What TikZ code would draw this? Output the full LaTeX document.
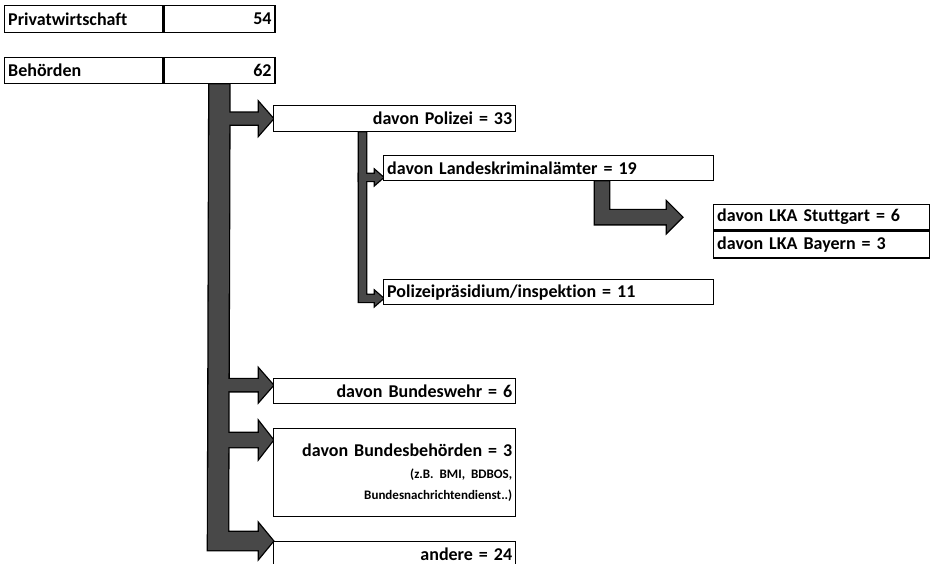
\documentclass[tikz,border=0pt]{standalone}
\usepackage{fontspec}
\setmainfont{Carlito}[Ligatures=NoCommon]
\usepackage{xcolor}
\usepackage{tikz}
\usetikzlibrary{calc, positioning, backgrounds}
\definecolor{arrowgray}{RGB}{72,72,72}
\frenchspacing

% block arrow to the right: start, tip, half shaft, half head, head length
\newcommand{\branch}[5]{($(#1 |- #2)+(0,-#3)$) -- ($(#2)+(-#5,-#3)$) -- ($(#2)+(-#5,-#4)$) -- (#2) -- ($(#2)+(-#5,#4)$) -- ($(#2)+(-#5,#3)$) -- ($(#1 |- #2)+(0,#3)$) -- cycle}

\newcommand{\arrowshapes}[1]{%
 % main trunk, turns into "andere"
 \path[#1] (trunk) -- ++(20,0) -- ($(anderetip)+(-45,-9)$) -- ($(anderetip)+(-14,-9)$) -- ($(anderetip)+(-14,-17)$) -- (anderetip) -- ($(anderetip)+(-14,17)$) -- ($(anderetip)+(-14,9)$) -- ($(anderetip)+(-65,9)$) -- cycle;
 \path[#1] \branch{trunkmid}{poltip}{6}{16}{14};
 \path[#1] \branch{trunkmid}{bwtip}{6}{16}{14};
 \path[#1] \branch{trunkmid}{bundtip}{7}{18}{14};
 % under Polizei
 \path[#1] (subtop) -- ++(7,0) -- ($(praestip)+(-17,-3.5)$) -- ($(praestip)+(-8,-3.5)$) -- ($(praestip)+(-8,-7)$) -- (praestip) -- ($(praestip)+(-8,7)$) -- ($(praestip)+(-8,3.5)$) -- ($(praestip)+(-24,3.5)$) -- cycle;
 \path[#1] \branch{subtop}{lkatip}{3.5}{7}{8};
 % LKA elbow
 \path[#1] (lkadrop) -- ++(14,0) -- ($(stgttip)+(-73,-7)$) -- ($(stgttip)+(-15,-7)$) -- ($(stgttip)+(-15,-15)$) -- (stgttip) -- ($(stgttip)+(-15,15)$) -- ($(stgttip)+(-15,7)$) -- ($(stgttip)+(-87,7)$) -- cycle;
}

\begin{document}
\begin{tikzpicture}[x=1pt, y=-1pt,
  box/.style={draw, fill=white, line width=1.4pt, anchor=north west, minimum height=26pt, inner xsep=3.5pt, inner ysep=0pt, font=\bfseries\fontsize{18}{20}\selectfont},
  lbox/.style={box, align=left},
  rbox/.style={box, align=right}]
 \useasboundingbox (0,0) rectangle (931,564);

 \node[lbox, text width=151pt, minimum height=27pt] (privL) at (4,5) {Privatwirtschaft};
 \node[rbox, text width=104pt, minimum height=27pt, right=0pt of privL] (privR) {54};
 \node[lbox, text width=151pt] (behL) at (4,57) {Behörden};
 \node[rbox, text width=104pt, right=0pt of behL] (behR) {62};

 \node[rbox, text width=235pt] (polizei) at (273,105) {davon Polizei = 33};
 \node[lbox, text width=323pt, minimum height=25pt] (lka) at (383,155) {davon Landeskriminalämter = 19};
 \node[lbox, text width=209pt, minimum height=25pt] (stgt) at (713,204) {davon LKA Stuttgart = 6};
 \node[lbox, text width=209pt, minimum height=27pt, below=0pt of stgt] (bay) {davon LKA Bayern = 3};
 \node[lbox, text width=323pt, minimum height=25pt] (praes) at (383,279) {Polizeipräsidium/inspektion = 11};

 \node[rbox, text width=235pt, minimum height=25pt] (bw) at (273,378) {davon Bundeswehr = 6};
 \node[rbox, text width=235pt, minimum height=88pt] (bund) at (273,428) {davon Bundesbehörden = 3\\[2pt] {\fontsize{13}{15}\selectfont (z.B. BMI, BDBOS,}\\[1pt] {\fontsize{13}{15}\selectfont Bundesnachrichtendienst..)}};
 \node[rbox, text width=235pt] (andere) at (273,541) {andere = 24};

 \coordinate (trunk) at ([xshift=46pt]behR.south west);
 \coordinate (trunkmid) at ([xshift=10pt]trunk);
 \coordinate (poltip) at (polizei.west);
 \coordinate (bwtip) at ([yshift=6pt]bw.west);
 \coordinate (bundtip) at ([yshift=-12pt]bund.north west);
 \coordinate (anderetip) at (andere.north west);
 \coordinate (subtop) at ([xshift=86pt]polizei.south west);
 \coordinate (lkatip) at ([yshift=4pt]lka.south west);
 \coordinate (praestip) at ([yshift=7pt]praes.south west);
 \coordinate (lkadrop) at ([xshift=212pt]lka.south west);
 \coordinate (stgttip) at ([xshift=-31pt]stgt.west);

 \begin{scope}[on background layer]
  \arrowshapes{draw=black, line width=2.6pt}
  \arrowshapes{fill=arrowgray}
 \end{scope}
\end{tikzpicture}
\end{document}
